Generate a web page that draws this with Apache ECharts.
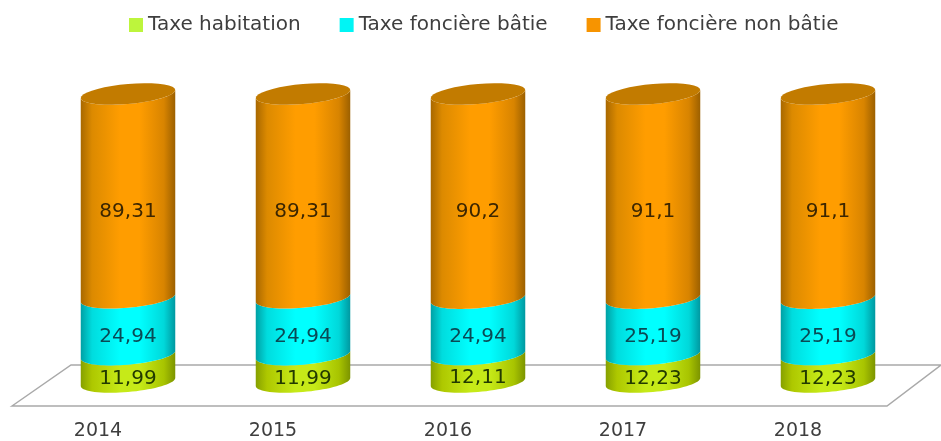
<!DOCTYPE html>
<html>
<head>
<meta charset="utf-8">
<style>html,body{margin:0;padding:0;background:#fff}#c{width:941px;height:441px;filter:blur(0.55px)}</style>
<script src="https://cdn.jsdelivr.net/npm/echarts@6/dist/echarts.min.js"></script>
</head>
<body>
<div id="c"></div>
<script>
var categories = ['2014', '2015', '2016', '2017', '2018'];
var taxeHabitation = [11.99, 11.99, 12.11, 12.23, 12.23];
var taxeBatie = [24.94, 24.94, 24.94, 25.19, 25.19];
var taxeNonBatie = [89.31, 89.31, 90.2, 91.1, 91.1];
var seriesNames = ['Taxe habitation', 'Taxe foncière bâtie', 'Taxe foncière non bâtie'];
var seriesValues = [taxeHabitation, taxeBatie, taxeNonBatie];

var legendColors = ['#bdf53c', '#00f5f5', '#f79400'];
var bodyStops = [
  ['#86a000', '#aec800', '#c6ea18', '#a8c400', '#7c9400'],
  ['#00a0a4', '#00dcde', '#00ffff', '#00d8da', '#0098a0'],
  ['#a86800', '#dc8a00', '#ff9d00', '#d88400', '#9c6000']
];
var labelColors = ['#223a00', '#0a4a55', '#3c2600'];
var labelShift = [10, 10.5, 15.5];
var TILT = 0.085, RY = 10, RATIO = 0.27;

function arc(cx, cy, rx, from, to) {
  var pts = [], n = 36;
  for (var i = 0; i <= n; i++) {
    var t = from + (to - from) * i / n;
    var dx = rx * Math.cos(t);
    pts.push([cx + dx, cy + RY * Math.sin(t) - TILT * dx]);
  }
  return pts;
}

function makeSeries(s) {
  var data = categories.map(function (c, i) {
    var total = 0, start = 0;
    seriesValues.forEach(function (v, k) { total += v[i]; if (k < s) start += v[i]; });
    return [i, start / total * 100, (start + seriesValues[s][i]) / total * 100, seriesValues[s][i]];
  });
  return {
    type: 'custom',
    name: seriesNames[s],
    z: 2 + s,
    clip: false,
    itemStyle: { color: legendColors[s] },
    encode: { x: 0, y: [1, 2] },
    data: data,
    renderItem: function (params, api) {
      var low = api.coord([api.value(0), api.value(1)]);
      var high = api.coord([api.value(0), api.value(2)]);
      var rx = api.size([1, 0])[0] * RATIO;
      var cx = low[0];
      var body = arc(cx, low[1], rx, 0, Math.PI).concat(arc(cx, high[1], rx, Math.PI, 0));
      var st = bodyStops[s];
      var kids = [{
        type: 'polygon',
        shape: { points: body },
        style: {
          fill: { type: 'linear', x: 0, y: 0, x2: 1, y2: 0, colorStops: [
            { offset: 0, color: st[0] }, { offset: 0.12, color: st[1] }, { offset: 0.42, color: st[2] },
            { offset: 0.62, color: st[2] }, { offset: 0.88, color: st[3] }, { offset: 1, color: st[4] }
          ] }
        }
      }];
      if (s === seriesValues.length - 1) {
        kids.push({
          type: 'polygon',
          shape: { points: arc(cx, high[1], rx, 0, Math.PI * 2) },
          style: { fill: '#c27b00' }
        });
      }
      kids.push({
        type: 'text',
        z2: 10,
        style: {
          text: String(api.value(3)).replace('.', ','),
          x: cx,
          y: (low[1] + high[1]) / 2 + labelShift[s],
          align: 'center',
          verticalAlign: 'middle',
          font: '20px "DejaVu Sans"',
          fill: labelColors[s]
        }
      });
      return { type: 'group', children: kids };
    }
  };
}

var chart = echarts.init(document.getElementById('c'), null, { renderer: 'canvas' });
chart.setOption({
  animation: false,
  backgroundColor: '#fff',
  legend: {
    left: 124, top: 10, itemWidth: 14, itemHeight: 14, itemGap: 39,
    icon: 'rect',
    textStyle: { fontFamily: 'DejaVu Sans', fontSize: 20, color: '#3e3e3e' },
    data: seriesNames
  },
  grid: { left: 40.5, width: 875, top: 94, height: 293 },
  xAxis: {
    type: 'category',
    data: categories,
    axisLine: { show: false },
    axisTick: { show: false },
    axisLabel: {
      margin: 40, interval: 0,
      fontFamily: 'DejaVu Sans', fontSize: 19, color: '#3e3e3e',
      padding: [0, 60, 0, 0]
    }
  },
  yAxis: { type: 'value', min: 0, max: 100, show: false },
  graphic: [{
    type: 'polygon',
    z: 0,
    silent: true,
    shape: { points: [[12, 406], [71, 365], [941, 365], [887, 406]] },
    style: { fill: '#fff', stroke: '#a9a9a9', lineWidth: 1.5 }
  }],
  series: seriesValues.map(function (v, s) { return makeSeries(s); })
});
</script>
</body>
</html>
